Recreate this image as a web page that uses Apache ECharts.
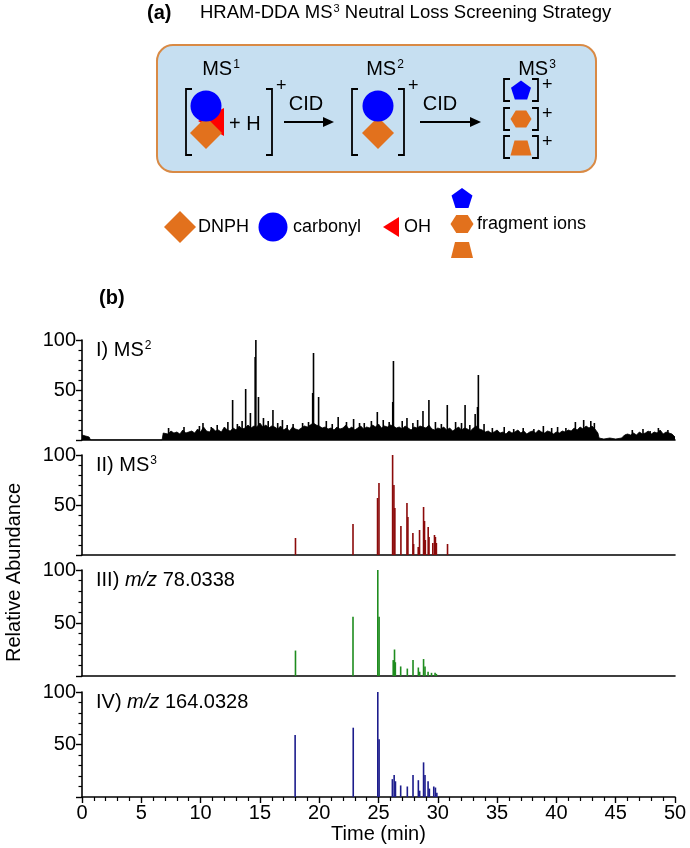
<!DOCTYPE html>
<html><head><meta charset="utf-8">
<script src="https://cdn.jsdelivr.net/npm/echarts@6/dist/echarts.min.js"></script>
<style>html,body{margin:0;padding:0;background:#fff}#c{width:690px;height:848px}</style>
</head><body><div id="c"></div>
<script>
// ---------- DATA ----------
const timeTicks = [0, 5, 10, 15, 20, 25, 30, 35, 40, 45, 50];
const abundanceTicks = [50, 100];
const panelLabels = ['I) MS2', 'II) MS3', 'III) m/z 78.0338', 'IV) m/z 164.0328'];

// Panel I: MS2 total signal, dense baseline (time, relative abundance)
const ms2Noise = [
[0,5],[0.15,6],[0.3,4],[0.45,6],[0.6,3],[0.72,0],[6.75,0],
[6.85,7],[7.0,8],[7.25,6],[7.5,9],[7.75,7],[8.0,8],[8.25,6],[8.5,10],[8.75,7],[9.0,8],[9.25,9],[9.5,7],[9.75,11],
[10.0,8],[10.25,13],[10.5,9],[10.75,8],[11.0,12],[11.25,9],[11.5,10],[11.75,8],[12.0,13],[12.25,10],[12.5,9],[12.75,12],
[13.0,10],[13.25,14],[13.5,11],[13.75,12],[14.0,15],[14.25,12],[14.5,14],[14.75,13],[15.0,17],[15.25,13],[15.5,15],[15.75,12],
[16.0,14],[16.25,13],[16.5,11],[16.75,14],[17.0,10],[17.25,12],[17.5,9],[17.75,13],[18.0,11],[18.25,10],[18.5,12],[18.75,14],
[19.0,13],[19.25,15],[19.5,17],[19.75,15],[20.0,14],[20.25,12],[20.5,13],[20.75,11],[21.0,12],[21.25,10],[21.5,13],[21.75,11],
[22.0,12],[22.25,15],[22.5,11],[22.75,13],[23.0,10],[23.25,12],[23.5,14],[23.75,11],[24.0,13],[24.25,12],[24.5,15],[24.75,13],
[25.0,16],[25.25,12],[25.5,14],[25.75,13],[26.0,15],[26.25,14],[26.5,12],[26.75,13],[27.0,11],[27.25,14],[27.5,12],[27.75,10],
[28.0,13],[28.25,12],[28.5,14],[28.75,13],[29.0,12],[29.25,15],[29.5,11],[29.75,10],[30.0,12],[30.25,11],[30.5,13],[30.75,10],
[31.0,12],[31.25,9],[31.5,11],[31.75,13],[32.0,10],[32.25,12],[32.5,11],[32.75,9],[33.0,12],[33.25,14],[33.5,11],[33.75,10],
[34.0,8],[34.25,9],[34.5,7],[34.75,8],[35.0,10],[35.25,7],[35.5,8],[35.75,6],[36.0,9],[36.25,7],[36.5,8],[36.75,10],
[37.0,7],[37.25,9],[37.5,6],[37.75,8],[38.0,9],[38.25,7],[38.5,10],[38.75,8],[39.0,7],[39.25,9],[39.5,8],[39.75,6],
[40.0,8],[40.25,7],[40.5,9],[40.75,8],[41.0,10],[41.25,9],[41.5,12],[41.75,10],[42.0,13],[42.25,11],[42.5,14],[42.75,12],
[43.0,14],[43.25,11],[43.5,7],[43.6,2],[44.0,1],[44.5,2],[45.0,1],[45.5,2],[45.65,0],
[45.75,5],[46.0,6],[46.25,5],[46.5,7],[46.75,5],[47.0,8],[47.25,6],[47.5,7],[47.75,9],[48.0,6],[48.25,8],[48.5,7],[48.75,10],
[49.0,6],[49.25,8],[49.5,7],[49.75,6],[50.0,3]
];
const ms2Peaks = [
[12.7,40],[13.8,51],[14.2,27],[14.6,83],[14.66,100],[14.88,43],[16.1,30],[17.8,16],
[19.45,47],[19.52,87],[19.95,43],[21.6,23],[24.9,28],[26.2,38],[26.26,79],[27.4,22],
[28.75,29],[29.25,40],[30.8,35],[32.3,35],[33.15,26],[33.35,33],[33.42,65]
];
const ms2Minor = [
[7.3,12],[8.6,13],[9.9,14],[10.2,17],[10.9,13],[11.4,15],[12.3,18],[13.1,16],[13.5,19],[15.3,22],
[15.7,19],[16.5,17],[16.9,20],[17.3,15],[18.6,17],[19.1,18],[20.6,19],[21.1,16],[22.3,18],[22.9,21],
[23.4,17],[23.8,17],[24.4,19],[25.4,20],[25.9,18],[27.0,19],[27.9,17],[28.3,20],[29.8,18],[30.3,16],
[31.5,18],[32.0,17],[32.7,15],[33.9,16],[34.6,12],[35.6,13],[36.4,11],[37.2,12],[38.1,11],[38.9,14],
[39.6,12],[40.1,13],[40.8,12],[41.6,18],[42.3,20],[42.9,19],[43.2,17],[46.4,10],[47.3,11],[47.9,9],
[48.6,12],[49.4,10]
];
// Panel II: MS3
const ms3Peaks = [
[18.0,17],[22.85,31],[24.92,57],[25.04,72],[26.19,100],[26.3,70],[26.38,47],[26.89,29],
[27.4,52],[27.48,38],[27.9,22],[27.96,11],[28.35,8],[28.46,25],[28.8,48],[28.88,34],[28.95,15],
[29.19,28],[29.26,18],[29.58,12],[29.72,20],[29.8,18],[29.88,12],[30.82,11]
];
// Panel III: m/z 78.0338
const mz78Peaks = [
[18.0,24],[22.85,56],[24.94,100],[25.05,56],[26.24,15],[26.35,25],[26.42,13],[26.87,9],
[27.43,7],[27.91,15],[28.36,8],[28.47,4],[28.8,16],[28.92,9],[29.18,4],[29.47,3],[29.77,3],[29.88,2]
];
// Panel IV: m/z 164.0328
const mz164Peaks = [
[17.97,59],[22.87,66],[24.94,100],[25.05,55],[26.17,17],[26.32,21],[26.43,15],[26.87,11],
[27.43,10],[27.91,21],[28.36,16],[28.47,6],[28.8,33],[28.92,21],[29.18,15],[29.29,8],
[29.66,10],[29.8,9],[29.92,4]
];

// ---------- STYLE / LAYOUT ----------
const FONT = '"Liberation Sans", Arial, Helvetica, sans-serif';
const BLUE = '#0000ff', ORANGE = '#e2711d', RED = '#ff0000';
const PANEL_COLORS = ['#000000', '#8b0a0a', '#1e8c1e', '#1c1c8c'];
const PANEL_TOPS = [340, 455, 570, 692];
const PANEL_HS = [100, 100, 106, 105];
const GRID_LEFT = 82, GRID_RIGHT = 15;

function rich(size) {
  return {
    n: {fontSize: size, fontFamily: FONT, fill: '#000'},
    i: {fontSize: size, fontFamily: FONT, fontStyle: 'italic', fill: '#000'},
    s: {fontSize: Math.round(size * 0.62), fontFamily: FONT, fill: '#000', verticalAlign: 'top', padding: [0, 0, 0, 1]}
  };
}
function txt(x, y, text, size, o) {
  o = o || {};
  const st = {text: text, fontSize: size, fontFamily: FONT, fontWeight: o.weight || 'normal', fill: '#000',
    align: o.align || 'left', textAlign: o.align || 'left', verticalAlign: 'middle', textVerticalAlign: 'middle'};
  if (o.rich) st.rich = rich(size);
  const el = {type: 'text', x: x, y: y, style: st, z: 20};
  if (o.rotation) el.rotation = o.rotation;
  return el;
}
function circ(cx, cy, r, fill, z) { return {type: 'circle', shape: {cx: cx, cy: cy, r: r}, style: {fill: fill}, z: z || 12}; }
function poly(pts, fill, z) { return {type: 'polygon', shape: {points: pts}, style: {fill: fill}, z: z || 12}; }
function diamond(cx, cy, d, z) { return poly([[cx, cy - d], [cx + d, cy], [cx, cy + d], [cx - d, cy]], ORANGE, z); }
function pentagon(cx, cy, r) {
  const p = [];
  for (let k = 0; k < 5; k++) { const a = (-90 + 72 * k) * Math.PI / 180; p.push([cx + r * Math.cos(a), cy + r * Math.sin(a)]); }
  return poly(p, BLUE);
}
function hexagon(cx, cy, w, h) {
  return poly([[cx + w / 2, cy], [cx + w / 4, cy - h / 2], [cx - w / 4, cy - h / 2], [cx - w / 2, cy], [cx - w / 4, cy + h / 2], [cx + w / 4, cy + h / 2]], ORANGE);
}
function trapezoid(cx, cy, tw, bw, h) {
  return poly([[cx - tw / 2, cy - h / 2], [cx + tw / 2, cy - h / 2], [cx + bw / 2, cy + h / 2], [cx - bw / 2, cy + h / 2]], ORANGE);
}
function lb(x, y1, y2) { return {type: 'polyline', shape: {points: [[x + 6, y1], [x, y1], [x, y2], [x + 6, y2]]}, style: {stroke: '#000', lineWidth: 1.8, fill: null}, z: 12}; }
function rb(x, y1, y2) { return {type: 'polyline', shape: {points: [[x - 6, y1], [x, y1], [x, y2], [x - 6, y2]]}, style: {stroke: '#000', lineWidth: 1.8, fill: null}, z: 12}; }
function arrow(x1, x2, y) {
  return [
    {type: 'line', shape: {x1: x1, y1: y, x2: x2 - 8, y2: y}, style: {stroke: '#000', lineWidth: 1.8}, z: 12},
    poly([[x2, y], [x2 - 11, y - 5], [x2 - 11, y + 5]], '#000')
  ];
}

const graphics = [];
// (a) diagram
graphics.push(txt(147, 13, '(a)', 20, {weight: 'bold'}));
graphics.push(txt(200, 13, '{n|HRAM-DDA MS}{s|3}{n| Neutral Loss Screening Strategy}', 18.5, {rich: true}));
graphics.push({type: 'rect', shape: {x: 157, y: 45, width: 439, height: 127, r: 16}, style: {fill: '#c6dff1', stroke: '#d98a45', lineWidth: 2}, z: 5});
graphics.push(txt(221, 69, '{n|MS}{s|1}', 20, {rich: true, align: 'center'}));
graphics.push(txt(385, 69, '{n|MS}{s|2}', 20, {rich: true, align: 'center'}));
graphics.push(txt(537, 69, '{n|MS}{s|3}', 20, {rich: true, align: 'center'}));
// MS1 group
graphics.push(lb(186, 89, 155));
graphics.push(poly([[198, 121], [224, 108], [224, 136]], RED, 11));
graphics.push(diamond(206, 133, 16, 12));
graphics.push(circ(206, 106, 15.5, BLUE, 13));
graphics.push(txt(229, 124, '+ H', 20));
graphics.push(rb(272, 89, 155));
graphics.push(txt(276, 86, '+', 18));
graphics.push(txt(306, 104, 'CID', 20, {align: 'center'}));
arrow(284, 334, 122).forEach(e => graphics.push(e));
// MS2 group
graphics.push(lb(352, 89, 155));
graphics.push(diamond(378, 133, 16, 12));
graphics.push(circ(378, 106, 15.5, BLUE, 13));
graphics.push(rb(404, 89, 155));
graphics.push(txt(408, 86, '+', 18));
graphics.push(txt(440, 104, 'CID', 20, {align: 'center'}));
arrow(420, 481, 122).forEach(e => graphics.push(e));
// MS3 fragments
[90, 119, 147].forEach(function (yy, k) {
  graphics.push(lb(504, yy - 11, yy + 11));
  graphics.push(rb(538, yy - 11, yy + 11));
  graphics.push(txt(542, yy - 5, '+', 18));
  if (k === 0) graphics.push(pentagon(521, yy + 1, 10.5));
  if (k === 1) graphics.push(hexagon(521, yy, 21, 17));
  if (k === 2) graphics.push(trapezoid(521, yy + 1, 13, 21, 15));
});
// legend row
graphics.push(diamond(180, 227, 16));
graphics.push(txt(198, 227, 'DNPH', 18));
graphics.push(circ(273, 227, 14.5, BLUE));
graphics.push(txt(293, 227, 'carbonyl', 18));
graphics.push(poly([[383, 227], [399, 217], [399, 237]], RED));
graphics.push(txt(404, 227, 'OH', 18));
graphics.push(pentagon(462, 199, 11));
graphics.push(hexagon(462, 224, 23, 18));
graphics.push(trapezoid(462, 250, 14, 22, 16));
graphics.push(txt(477, 224, 'fragment ions', 18));
// (b) panel texts
graphics.push(txt(99, 298, '(b)', 20, {weight: 'bold'}));
graphics.push(txt(14, (PANEL_TOPS[0] + PANEL_TOPS[3] + PANEL_HS[3]) / 2 + 4, 'Relative Abundance', 20, {align: 'center', rotation: Math.PI / 2}));
const labelRich = [
  '{n|I) MS}{s|2}',
  '{n|II) MS}{s|3}',
  '{n|III) }{i|m/z}{n| 78.0338}',
  '{n|IV) }{i|m/z}{n| 164.0328}'
];
labelRich.forEach(function (t, i) { graphics.push(txt(96, PANEL_TOPS[i] + 10, t, 20, {rich: true})); });

// ---------- CHART ----------
function stick(color) {
  return function (params, api) {
    const t = api.value(0), v = api.value(1);
    const a = api.coord([t, 0]), b = api.coord([t, v]);
    return {type: 'line', shape: {x1: a[0], y1: a[1], x2: b[0], y2: b[1]}, style: {stroke: color, lineWidth: 1.6}};
  };
}
const grids = [], xAxes = [], yAxes = [];
for (let i = 0; i < 4; i++) {
  const last = i === 3;
  grids.push({left: GRID_LEFT, right: GRID_RIGHT, top: PANEL_TOPS[i], height: PANEL_HS[i], containLabel: false});
  xAxes.push({
    type: 'value', gridIndex: i, min: timeTicks[0], max: timeTicks[timeTicks.length - 1], interval: timeTicks[1] - timeTicks[0],
    axisLine: {show: true, onZero: false, lineStyle: {color: '#000', width: 1.6}},
    axisTick: {show: last, length: 6, lineStyle: {color: '#000', width: 1.4}},
    minorTick: {show: last, splitNumber: 5, length: 4, lineStyle: {color: '#000', width: 1.2}},
    axisLabel: {show: last, fontSize: 20, fontFamily: FONT, color: '#000', margin: 6},
    splitLine: {show: false},
    name: last ? 'Time (min)' : '', nameLocation: 'middle', nameGap: 27,
    nameTextStyle: {fontSize: 20, fontFamily: FONT, color: '#000'}
  });
  yAxes.push({
    type: 'value', gridIndex: i, min: 0, max: abundanceTicks[1], interval: abundanceTicks[0],
    axisLine: {show: true, lineStyle: {color: '#000', width: 1.6}},
    axisTick: {show: true, length: 6, lineStyle: {color: '#000', width: 1.4}},
    minorTick: {show: true, splitNumber: 5, length: 3.5, lineStyle: {color: '#000', width: 1.2}},
    axisLabel: {fontSize: 20, fontFamily: FONT, color: '#000', margin: 6,
      formatter: function (v) { return abundanceTicks.indexOf(v) >= 0 ? String(v) : ''; }},
    splitLine: {show: false}
  });
}
const series = [
  {type: 'line', xAxisIndex: 0, yAxisIndex: 0, data: ms2Noise, symbol: 'none', lineStyle: {color: '#000', width: 0.8}, areaStyle: {color: '#000', opacity: 1}},
  {type: 'custom', xAxisIndex: 0, yAxisIndex: 0, data: ms2Peaks.concat(ms2Minor), renderItem: stick(PANEL_COLORS[0])},
  {type: 'custom', xAxisIndex: 1, yAxisIndex: 1, data: ms3Peaks, renderItem: stick(PANEL_COLORS[1])},
  {type: 'custom', xAxisIndex: 2, yAxisIndex: 2, data: mz78Peaks, renderItem: stick(PANEL_COLORS[2])},
  {type: 'custom', xAxisIndex: 3, yAxisIndex: 3, data: mz164Peaks, renderItem: stick(PANEL_COLORS[3])}
];
const chart = echarts.init(document.getElementById('c'), null, {renderer: 'canvas'});
chart.setOption({
  animation: false,
  backgroundColor: '#fff',
  textStyle: {fontFamily: FONT},
  grid: grids, xAxis: xAxes, yAxis: yAxes, series: series,
  graphic: {elements: graphics}
});
</script></body></html>
